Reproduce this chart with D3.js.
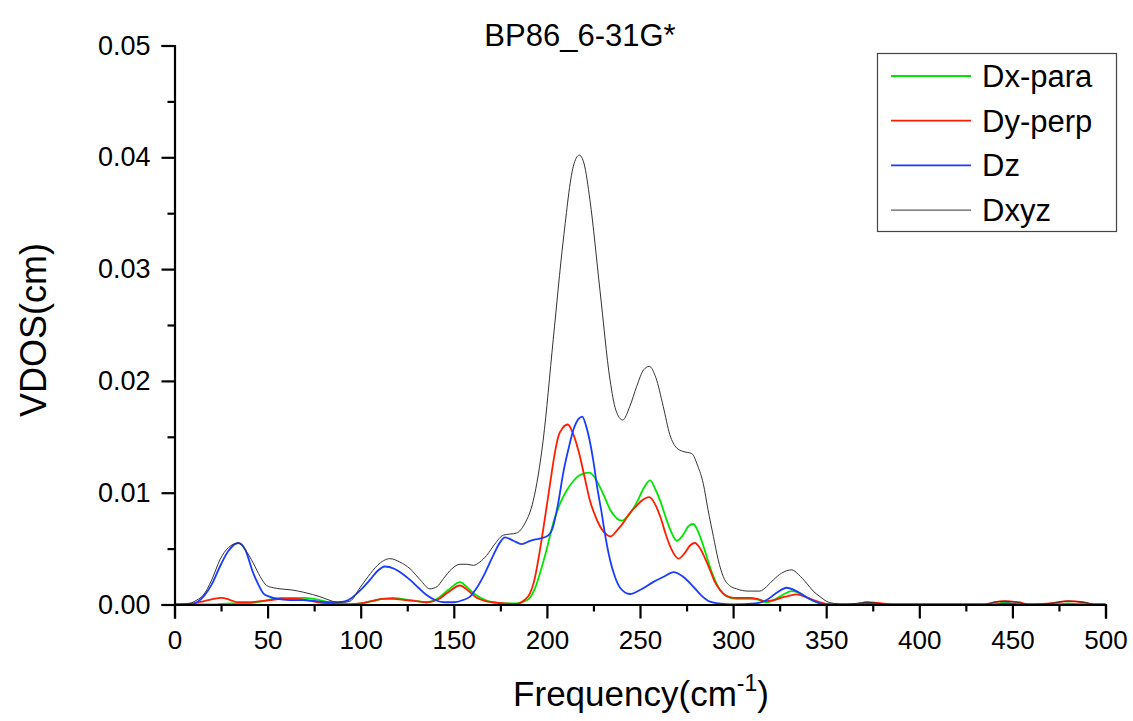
<!DOCTYPE html>
<html>
<head>
<meta charset="utf-8">
<script src="https://d3js.org/d3.v7.min.js"></script>
<style>
  body { margin: 0; background: #fff; }
  text { font-family: Arial, "Liberation Sans", sans-serif; fill: #000; }
</style>
</head>
<body>
<svg id="render" width="1133" height="721"></svg>
<script>
// frequency (cm-1), VDOS value pairs
let dxPara = [[0,0],[20,0],[30,0.0001],[40,0.0001],[44,0.0002],[50,0.0004],[57,0.0006],[65,0.0006],[70,0.0006],[78,0.0004],[83,0.0002],[87,0.0001],[95,0],
  [100,0.0001],[106,0.0003],[112,0.0005],[117.5,0.0006],[122,0.0005],[126.5,0.0004],[135.4,0.0002],[141,0.0005],[147,0.0013],[153.3,0.002],[158,0.0014],
  [162.3,0.0008],[167,0.0004],[171.2,0.0002],[177,0.0001],[183.8,0.0001],[188,0.0003],[190.9,0.0006],[193.5,0.0014],[196.3,0.0028],[200,0.005],[203.4,0.0073],
  [207,0.009],[210.6,0.0102],[214,0.011],[218,0.0116],[222.8,0.0118],[225.5,0.0114],[228.5,0.0105],[231,0.0096],[233.9,0.0085],[237,0.0078],[240.2,0.0075],
  [244,0.008],[248.2,0.0091],[252,0.0104],[255.4,0.0111],[258,0.0104],[261,0.0092],[264,0.0077],[267,0.0064],[269.7,0.0057],[273,0.0062],[276,0.007],
  [278.6,0.0072],[281,0.0066],[283.5,0.0055],[285.8,0.0043],[289,0.0027],[293,0.0013],[297,0.0007],[301.9,0.0005],[306,0.0005],[310.8,0.0005],[314,0.0004],
  [317.9,0.0002],[322,0.0004],[327,0.0009],[331.5,0.0012],[336,0.001],[340,0.0006],[344.9,0.0002],[350,0],[365,0],[372,0.0001],[380,0],[440,0],[446,0.0002],
  [452,0],[475,0],[480,0.0001],[486,0],[500,0]];

let dyPerp = [[0,0],[10,0.0001],[16,0.0003],[21,0.0005],[25.3,0.0006],[30,0.0004],[34,0.0002],[40,0.0002],[46,0.0003],[52,0.0004],[57,0.0005],[65.6,0.0005],
  [71,0.0004],[77,0.0002],[83.4,0.0001],[90,0],[100,0.0001],[106,0.0003],[112,0.0005],[117.5,0.0005],[124,0.0004],[130,0.0003],[135.4,0.0002],[141,0.0004],
  [147,0.0011],[153.3,0.0017],[158,0.0012],[162.3,0.0006],[167,0.0003],[171.2,0.0002],[177,0.0001],[183.8,0.00005],[188,0.0004],[190.9,0.001],[193,0.002],
  [196.3,0.0049],[199,0.0078],[201.7,0.0108],[204,0.0133],[206.1,0.015],[208.5,0.0158],[211.2,0.0161],[214,0.0153],[217.8,0.0132],[220.5,0.0112],[223.1,0.0093],
  [225.8,0.008],[228.5,0.007],[231,0.0064],[234.2,0.0061],[238,0.0067],[241,0.0073],[244.6,0.0082],[248,0.0088],[251,0.0093],[255,0.0096],[258,0.009],
  [261,0.0078],[264,0.0062],[267,0.0049],[270.6,0.0041],[274,0.0046],[277,0.0053],[279.5,0.0055],[282,0.0051],[285,0.0041],[287.6,0.0031],[290,0.0021],
  [293,0.0013],[296,0.0008],[300.1,0.0006],[305,0.0006],[309,0.0006],[313,0.0005],[317,0.0003],[322,0.0004],[328,0.0007],[334,0.0009],[340,0.0006],
  [346.7,0.0002],[352,0],[365,0],[372,0.0002],[380,0.0001],[388,0],[435,0],[440,0.0002],[446,0.0003],[453,0.0002],[460,0],[470,0.0001],[480,0.0003],
  [488,0.0002],[495,0],[500,0]];

let dz = [[0,0],[8,0],[12,0.0002],[16,0.0008],[20,0.0018],[24.4,0.0034],[29,0.0048],[34.3,0.0055],[38,0.0049],[42.3,0.0028],[45,0.0018],[47.7,0.001],
  [51,0.0007],[55,0.0005],[62,0.0004],[69,0.0004],[76,0.0003],[82,0.0002],[88,0.0002],[92,0.0003],[96,0.0007],[100,0.0013],[105,0.0022],[109,0.003],
  [113,0.0034],[118,0.0032],[122,0.0028],[126.5,0.0022],[131,0.0015],[135.4,0.00085],[140,0.0004],[145,0.0002],[150,0.0002],[155,0.0004],[158.7,0.0007],
  [162,0.0014],[165.8,0.0025],[171.2,0.0044],[175,0.0056],[177.5,0.006],[182,0.0057],[186.5,0.0054],[191,0.0057],[196,0.0059],[200,0.0061],[203,0.0068],
  [206,0.009],[208.8,0.0118],[212,0.0142],[214.2,0.0156],[217,0.0166],[219,0.0168],[221,0.016],[224.9,0.0129],[227,0.0105],[229.4,0.0082],[231.5,0.006],
  [233.9,0.004],[236.5,0.0025],[239.3,0.0015],[244.6,0.00094],[250,0.0013],[257,0.002],[263,0.0025],[268,0.0029],[273,0.0025],[278.6,0.0016],[283,0.0008],
  [287.6,0.00025],[292,0.0001],[300,0],[312,0.0001],[318,0.0004],[323,0.001],[328.8,0.0015],[334,0.0012],[340,0.0006],[346.7,0.0001],[352,0],[365,0],
  [372,0.0001],[380,0],[440,0],[447,0.0001],[455,0],[500,0]];

let dxyz = [[0,0],[8,0.0001],[12,0.0004],[15.5,0.00085],[20,0.0022],[24.4,0.004],[29,0.0051],[34.3,0.0055],[38,0.0049],[42.3,0.0037],[46,0.0025],
  [49.5,0.0017],[53,0.0015],[56.7,0.0014],[63,0.0013],[69.2,0.0011],[74,0.0009],[78.1,0.0007],[83,0.0004],[87.1,0.0002],[91,0.0002],[94.3,0.0003],
  [99.6,0.0015],[104,0.0025],[109,0.0035],[115.7,0.0041],[121,0.0038],[126.5,0.0032],[132,0.0022],[137.2,0.0014],[141,0.0016],[144.4,0.0023],[149,0.0032],
  [153.3,0.0036],[157,0.0036],[160.5,0.0035],[164,0.0038],[167.7,0.0044],[172,0.0054],[176.6,0.0062],[183.8,0.0064],[188,0.0072],[192.7,0.0093],[198,0.0147],
  [203.4,0.0237],[208.8,0.0326],[214.2,0.0392],[217.4,0.0402],[220,0.0394],[223.1,0.0362],[228.5,0.0281],[233.9,0.0201],[237,0.0174],[240.7,0.0165],
  [244.5,0.0177],[248.2,0.0195],[252,0.021],[255,0.0213],[258.5,0.0203],[262.5,0.0177],[266,0.0152],[269.7,0.014],[273,0.0137],[277.8,0.0135],[281,0.0124],
  [284,0.0108],[286.5,0.0085],[289.4,0.0061],[292,0.004],[294.7,0.0025],[298,0.0017],[301.9,0.0014],[308,0.0012],[314.4,0.0012],[318,0.0016],[321.6,0.0022],
  [326,0.0028],[331.5,0.0031],[335,0.0027],[339.5,0.0019],[343,0.0012],[346.7,0.0007],[350,0.0003],[354,0.0001],[360,0],[366,0.0001],[372,0.0002],
  [378,0.0001],[385,0],[435,0],[440,0.0002],[446,0.0003],[452,0.0002],[460,0],[470,0.0001],[480,0.0003],[488,0.0002],[495,0],[500,0]];

let seriesNames = ['Dx-para', 'Dy-perp', 'Dz', 'Dxyz'];
let seriesData = [dxPara, dyPerp, dz, dxyz];
let seriesColors = ['#00e600', '#ff1e00', '#1a3cff', '#333333'];
let seriesWidths = [1.8, 1.8, 1.8, 1];

let xTicks = [0, 50, 100, 150, 200, 250, 300, 350, 400, 450, 500];
let yTicks = [0, 0.01, 0.02, 0.03, 0.04, 0.05];

let svg = d3.select('#render');

let plot = {'left': 174.5, 'right': 1105.5, 'top': 45.5, 'bottom': 604.5};

let x = d3.scaleLinear().domain([0, 500]).range([plot.left, plot.right]);
let y = d3.scaleLinear().domain([0, 0.05]).range([plot.bottom, plot.top]);

let bottomlayer = svg.append('g');
let toplayer = svg.append('g');

// curves
let line = d3.line()
  .x(d => x(d[0]))
  .y(d => y(d[1]))
  .curve(d3.curveMonotoneX);

bottomlayer.selectAll('.lines')
  .data(seriesData)
  .join('path')
  .attr('class', 'lines')
  .attr('d', d => line(d))
  .style('fill', 'none')
  .style('stroke', (d, i) => seriesColors[i])
  .style('stroke-width', (d, i) => seriesWidths[i])
  .style('stroke-linejoin', 'round');

// axes
let xAxis = d3.axisBottom(x).tickValues(xTicks).tickSize(14).tickPadding(8).tickFormat(d3.format('d'));
let xMinor = d3.axisBottom(x).tickValues(d3.range(25, 500, 50)).tickSize(7).tickFormat('');
let yAxis = d3.axisLeft(y).tickValues(yTicks).tickSize(13).tickPadding(11).tickFormat(d3.format('.2f'));
let yMinor = d3.axisLeft(y).tickValues(d3.range(0.005, 0.05, 0.01)).tickSize(7).tickFormat('');

let gx = toplayer.append('g').attr('transform', `translate(0,${plot.bottom})`).call(xAxis);
let gxm = toplayer.append('g').attr('transform', `translate(0,${plot.bottom})`).call(xMinor);
let gy = toplayer.append('g').attr('transform', `translate(${plot.left},0)`).call(yAxis);
let gym = toplayer.append('g').attr('transform', `translate(${plot.left},0)`).call(yMinor);

[gx, gxm, gy, gym].forEach(g => {
  g.selectAll('.domain').style('stroke', '#000').style('stroke-width', 2.2);
  g.selectAll('line').style('stroke', '#000').style('stroke-width', 2.2);
  g.selectAll('text').style('font-size', '27px').style('font-family', 'Arial, "Liberation Sans", sans-serif').style('fill', '#000');
});
gx.selectAll('text').style('font-size', '26px');
gxm.select('.domain').remove();
gym.select('.domain').remove();
gx.selectAll('text').attr('dy', '0.85em');

// title and axis labels
svg.append('text')
  .attr('x', 580).attr('y', 46)
  .attr('text-anchor', 'middle')
  .style('font-size', '31px')
  .text('BP86_6-31G*');

svg.append('text')
  .attr('transform', 'translate(46,330) rotate(-90)')
  .attr('text-anchor', 'middle')
  .style('font-size', '36px')
  .text('VDOS(cm)');

let xlab = svg.append('text')
  .attr('x', 641).attr('y', 706)
  .attr('text-anchor', 'middle')
  .style('font-size', '35px');
xlab.append('tspan').text('Frequency(cm');
xlab.append('tspan').attr('dy', -15).style('font-size', '23px').text('-1');
xlab.append('tspan').attr('dy', 15).text(')');

// legend
let legend = toplayer.append('g');
legend.append('rect')
  .attr('x', 877.5).attr('y', 53.5)
  .attr('width', 239).attr('height', 178)
  .style('fill', '#fff')
  .style('stroke', '#444')
  .style('stroke-width', 1.2);

let items = legend.selectAll('.item')
  .data(seriesNames)
  .join('g')
  .attr('class', 'item')
  .attr('transform', (d, i) => `translate(0,${76 + i * 44.7})`);

items.append('line')
  .attr('x1', 891).attr('x2', 971)
  .style('stroke', (d, i) => seriesColors[i])
  .style('stroke-width', (d, i) => seriesWidths[i]);

items.append('text')
  .attr('x', 982).attr('y', 11)
  .style('font-size', '31px')
  .text(d => d);
</script>
</body>
</html>
